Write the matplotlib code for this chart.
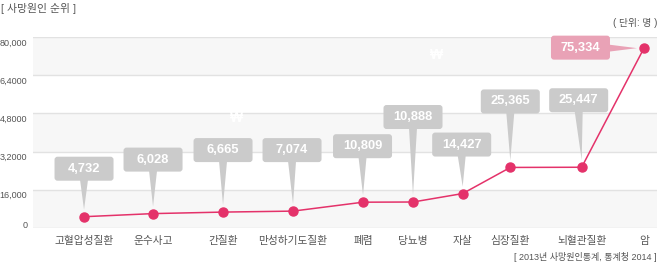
import matplotlib
matplotlib.use('Agg')
import matplotlib.pyplot as plt
from matplotlib.patches import FancyBboxPatch, Polygon
import matplotlib.transforms as mtrans

plt.rcParams['font.family'] = ['Liberation Sans', 'Noto Sans CJK KR', 'DejaVu Sans']

# ---- data ----
categories = ['고혈압성질환', '운수사고', '간질환', '만성하기도질환', '폐렴',
              '당뇨병', '자살', '심장질환', '뇌혈관질환', '암']
deaths = [4732, 6028, 6665, 7074, 10809, 10888, 14427, 25365, 25447, 75334]
value_labels = ['4,732', '6,028', '6,665', '7,074', '10,809',
                '10,888', '14,427', '25,365', '25,447', '75,334']
ytick_values = [0, 16000, 32000, 48000, 64000, 80000]
ytick_labels = ['0', '16,000', '3,2000', '4,8000', '6,4000', '80,000']

# category positions along the x axis (uneven, as in the reference)
cat_x = [0, 0.986, 1.986, 2.986, 3.986, 4.70, 5.41, 6.09, 7.11, 8.0]
# callout box offsets from each point (pixels: dx, dy up)
callout_offsets = [(0, 48), (0, 54), (0, 62), (-1, 61), (-0.5, 56),
                   (0, 85), (-1, 49), (0, 66), (-3, 67), (-63.5, 0.5)]

LINE = '#e4326a'
GRAY_BOX = '#cbcbcb'
PINK_BOX = '#e9a2b6'
TXT = '#555555'

fig = plt.figure(figsize=(6.6, 2.67), dpi=100)
ax = fig.add_axes([33 / 660, (267 - 228) / 267, 624 / 660, 191 / 267])
ax.set_xlim(-0.729, 8.186)
ax.set_ylim(0, 80000)

for i in range(len(ytick_values) - 1):
    if i % 2 == 0:
        ax.axhspan(ytick_values[i], ytick_values[i + 1], color='#f7f7f7', lw=0, zorder=0)
for v in ytick_values:
    ax.axhline(v, color='#e2e2e2', lw=1, zorder=1)
for s in ax.spines.values():
    s.set_visible(False)

ax.set_yticks(ytick_values)
ax.set_yticklabels(ytick_labels, fontsize=6.5, color=TXT)
ax.tick_params(axis='y', length=0, pad=4)
for v, lbl in zip(ytick_values, ax.get_yticklabels()):
    shift = 0.04 if v == 0 else -0.05
    lbl.set_transform(lbl.get_transform() + mtrans.ScaledTranslation(0, shift, fig.dpi_scale_trans))

ax.set_xticks(cat_x)
ax.set_xticklabels(categories, fontsize=7.7, color=TXT)
ax.tick_params(axis='x', length=0, pad=6)

ax.plot(cat_x, deaths, color=LINE, lw=1.1, marker='o', ms=6.5,
        mfc=LINE, mec=LINE, zorder=5, clip_on=False)

ident = mtrans.IdentityTransform()
W, H = 59, 24
for i, (x, v) in enumerate(zip(cat_x, deaths)):
    px, py = ax.transData.transform((x, v))
    dx, dy = callout_offsets[i]
    bx, by = px + dx, py + dy
    last = (i == len(deaths) - 1)
    col = PINK_BOX if last else GRAY_BOX
    box = FancyBboxPatch((bx - W / 2, by - H / 2), W, H,
                         boxstyle='round,pad=0,rounding_size=3',
                         fc=col, ec='none', transform=ident, zorder=6, clip_on=False)
    ax.add_patch(box)
    if last:
        tri = [(bx + W / 2 - 1, by + 3), (bx + W / 2 - 1, by - 4), (px - 7, py)]
    else:
        tri = [(bx - 4, by - H / 2 + 1), (bx + 4, by - H / 2 + 1), (px, py + 7)]
    ax.add_patch(Polygon(tri, closed=True, fc=col, ec='none', transform=ident,
                         zorder=6, clip_on=False))
    ax.text(bx, by, value_labels[i], transform=ident, ha='center', va='center',
            color='white', fontweight='bold', fontsize=9.3, zorder=7)

# faint watermarks
fig.text(237 / 660, 1 - 118 / 267, '₩', color='white', fontsize=10,
         fontweight='bold', ha='center', va='center', zorder=3)
fig.text(437 / 660, 1 - 55 / 267, '₩', color='white', fontsize=10,
         fontweight='bold', ha='center', va='center', zorder=3)

fig.text(1 / 660, 1 - 8 / 267, '[ 사망원인 순위 ]', fontsize=7.8, color=TXT,
         ha='left', va='center')
fig.text(657 / 660, 1 - 23 / 267, '( 단위: 명 )', fontsize=7, color=TXT,
         ha='right', va='center')
fig.text(657 / 660, 1 - 257 / 267, '[ 2013년 사망원인통계, 통계청 2014 ]',
         fontsize=6.5, color=TXT, ha='right', va='center')

fig.savefig('out.png', dpi=100)
